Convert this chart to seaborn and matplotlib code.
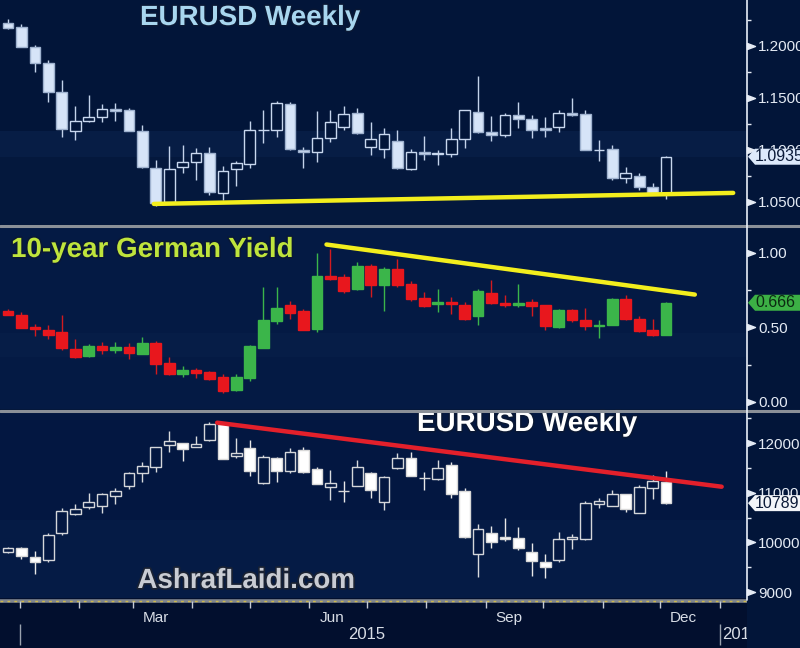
import numpy as np
import pandas as pd
import matplotlib
matplotlib.use("Agg")
import matplotlib.pyplot as plt
import matplotlib.dates as mdates
import matplotlib.patheffects as pe
import matplotlib.transforms as mtransforms
from matplotlib import font_manager
from matplotlib.lines import Line2D
from matplotlib.patches import Polygon
from matplotlib.path import Path
import seaborn as sns

# weekly candles, Dec 2014 - Dec 2015
weeks = pd.date_range("2014-12-26", periods=50, freq="W-FRI")

# EURUSD weekly
eur_open = [1.2225, 1.2186, 1.1993, 1.1833, 1.1561, 1.1183, 1.1282, 1.1314, 1.1392, 1.1385,
            1.1186, 1.0830, 1.0500, 1.0840, 1.0882, 1.0968, 1.0590, 1.0817, 1.0863, 1.1188,
            1.1192, 1.1440, 1.1000, 1.0981, 1.1112, 1.1218, 1.1353, 1.1032, 1.1007, 1.1090,
            1.0817, 1.0984, 1.0965, 1.0962, 1.1103, 1.1368, 1.1176, 1.1144, 1.1337, 1.1295,
            1.1214, 1.1218, 1.1353, 1.1346, 1.1000, 1.1010, 1.0728, 1.0750, 1.0647, 1.0584]
eur_high = [1.2257, 1.2212, 1.2010, 1.1865, 1.1673, 1.1423, 1.1529, 1.1440, 1.1449, 1.1407,
            1.1240, 1.0904, 1.1041, 1.1048, 1.1016, 1.1032, 1.0846, 1.0894, 1.1282, 1.1385,
            1.1474, 1.1458, 1.1030, 1.1375, 1.1385, 1.1426, 1.1400, 1.1272, 1.1209, 1.1192,
            1.1010, 1.1135, 1.1000, 1.1209, 1.1385, 1.1712, 1.1330, 1.1353, 1.1465, 1.1337,
            1.1314, 1.1385, 1.1497, 1.1385, 1.1096, 1.1048, 1.0833, 1.0776, 1.0686, 1.0942]
eur_low = [1.2165, 1.1990, 1.1753, 1.1465, 1.1122, 1.1096, 1.1272, 1.1272, 1.1282, 1.1180,
           1.0830, 1.0465, 1.0490, 1.0776, 1.0712, 1.0567, 1.0519, 1.0657, 1.0824, 1.1070,
           1.1128, 1.0995, 1.0824, 1.0888, 1.1080, 1.1192, 1.1150, 1.0952, 1.0920, 1.0815,
           1.0808, 1.0904, 1.0856, 1.0930, 1.1016, 1.1160, 1.1090, 1.1128, 1.1214, 1.1112,
           1.1128, 1.1170, 1.1330, 1.0995, 1.0894, 1.0712, 1.0686, 1.0615, 1.0570, 1.0526]
eur_close = [1.2173, 1.1993, 1.1840, 1.1561, 1.1199, 1.1282, 1.1314, 1.1391, 1.1378, 1.1186,
             1.0834, 1.0487, 1.0817, 1.0882, 1.0968, 1.0593, 1.0801, 1.0872, 1.1192, 1.1196,
             1.1449, 1.1007, 1.0981, 1.1112, 1.1266, 1.1343, 1.1161, 1.1106, 1.1154, 1.0824,
             1.0984, 1.0965, 1.0968, 1.1103, 1.1385, 1.1176, 1.1144, 1.1337, 1.1295, 1.1192,
             1.1192, 1.1353, 1.1337, 1.1000, 1.1004, 1.0728, 1.0776, 1.0647, 1.0584, 1.0935]

# 10-year German yield
bund_open = [0.609, 0.587, 0.502, 0.484, 0.468, 0.357, 0.312, 0.379, 0.350, 0.368,
             0.323, 0.397, 0.263, 0.185, 0.216, 0.200, 0.166, 0.082, 0.160, 0.364,
             0.542, 0.648, 0.609, 0.491, 0.844, 0.842, 0.760, 0.916, 0.782, 0.890,
             0.793, 0.699, 0.659, 0.670, 0.654, 0.576, 0.730, 0.666, 0.648, 0.670,
             0.648, 0.502, 0.619, 0.547, 0.507, 0.520, 0.693, 0.554, 0.484, 0.453]
bund_high = [0.626, 0.603, 0.525, 0.520, 0.585, 0.424, 0.386, 0.401, 0.401, 0.395,
             0.435, 0.408, 0.301, 0.240, 0.227, 0.211, 0.185, 0.185, 0.384, 0.775,
             0.775, 0.681, 0.626, 0.999, 1.028, 0.860, 0.938, 0.927, 0.905, 0.961,
             0.815, 0.737, 0.760, 0.703, 0.670, 0.760, 0.820, 0.721, 0.793, 0.693,
             0.650, 0.626, 0.626, 0.632, 0.547, 0.700, 0.721, 0.580, 0.554, 0.674]
bund_low = [0.585, 0.495, 0.440, 0.424, 0.350, 0.295, 0.305, 0.323, 0.328, 0.290,
            0.320, 0.189, 0.180, 0.166, 0.160, 0.150, 0.059, 0.072, 0.144, 0.360,
            0.525, 0.554, 0.480, 0.473, 0.820, 0.730, 0.755, 0.708, 0.614, 0.775,
            0.680, 0.635, 0.603, 0.592, 0.550, 0.518, 0.655, 0.640, 0.636, 0.574,
            0.485, 0.495, 0.536, 0.485, 0.431, 0.515, 0.548, 0.470, 0.446, 0.448]
bund_close = [0.587, 0.498, 0.489, 0.453, 0.364, 0.301, 0.379, 0.346, 0.368, 0.328,
              0.397, 0.256, 0.185, 0.216, 0.193, 0.155, 0.077, 0.166, 0.375, 0.552,
              0.630, 0.596, 0.484, 0.844, 0.827, 0.744, 0.916, 0.782, 0.894, 0.782,
              0.688, 0.643, 0.670, 0.659, 0.558, 0.744, 0.663, 0.648, 0.663, 0.641,
              0.507, 0.619, 0.547, 0.509, 0.520, 0.693, 0.554, 0.475, 0.453, 0.666]

# third panel (index level)
idx_open = [9800, 9892, 9700, 9645, 10194, 10571, 10718, 10739, 10939, 11140,
            11390, 11510, 11960, 11993, 11926, 12060, 12396, 11738, 11893, 11201,
            11691, 11443, 11859, 11470, 11121, 11040, 11134, 11403, 10806, 11490,
            11692, 11302, 11275, 11557, 11034, 9766, 10181, 10114, 10081, 9812,
            9611, 9644, 10060, 10060, 10772, 10732, 10973, 10597, 11101, 11221]
idx_high = [9905, 9900, 9832, 10194, 10698, 10772, 10987, 11000, 11088, 11422,
            11624, 11926, 12242, 12000, 12147, 12429, 12400, 12095, 12060, 11758,
            11724, 11893, 11926, 11510, 11457, 11235, 11658, 11422, 11342, 11793,
            11825, 11422, 11658, 11624, 11100, 10363, 10335, 10496, 10303, 9981,
            9760, 10215, 10162, 10832, 10899, 11054, 10980, 11154, 11356, 11436]
idx_low = [9790, 9665, 9357, 9598, 10148, 10551, 10671, 10585, 10766, 11074,
           11209, 11410, 11813, 11638, 11910, 12050, 11670, 11692, 11336, 11175,
           11221, 11390, 11400, 11165, 10853, 10806, 11125, 10887, 10651, 11480,
           11330, 11054, 11255, 10899, 10090, 9309, 9893, 10027, 9846, 9329,
           9289, 9611, 9866, 10050, 10685, 10725, 10605, 10590, 10867, 10780]
idx_close = [9892, 9731, 9598, 10148, 10631, 10671, 10819, 10967, 11040, 11390,
             11543, 11913, 12047, 11873, 11973, 12382, 11678, 11805, 11443, 11724,
             11443, 11812, 11410, 11175, 11188, 11030, 11510, 11054, 11309, 11692,
             11336, 11300, 11490, 10967, 10101, 10269, 10000, 10067, 9879, 9631,
             9498, 10060, 10101, 10798, 10839, 10973, 10671, 11108, 11235, 10789.3]

# hand-drawn trend lines (start / end)
eur_line_dates = pd.to_datetime(["2015-03-12", "2016-01-08"])
eur_line_vals = [1.0481, 1.0587]
bund_line_dates = pd.to_datetime(["2015-06-10", "2015-12-19"])
bund_line_vals = [1.057, 0.721]
idx_line_dates = pd.to_datetime(["2015-04-14", "2016-01-02"])
idx_line_vals = [12409, 11120]

eur_ticks = [1.05, 1.10, 1.15, 1.20]
eur_minor = [1.075, 1.125, 1.175, 1.225]
bund_ticks = [0.0, 0.5, 1.0]
bund_minor = [0.25, 0.75]
idx_ticks = [9000, 10000, 11000, 12000]
idx_minor = [9500, 10500, 11500, 12500]

month_labels = ["Mar", "Jun", "Sep", "Dec"]
month_label_dates = pd.to_datetime(["2015-03-13", "2015-06-13", "2015-09-13", "2015-12-13"])

sns.set_theme(style="dark")


def pick_font(names):
    for n in names:
        try:
            font_manager.findfont(font_manager.FontProperties(family=n), fallback_to_default=False)
            return n
        except Exception:
            pass
    return "DejaVu Sans"


NARROW = pick_font(["Liberation Sans Narrow", "DejaVu Sans Condensed", "Liberation Sans"])
BOLD = pick_font(["Liberation Sans", "Arial", "DejaVu Sans"])
plt.rcParams["font.family"] = [NARROW, "DejaVu Sans"]

BG = "#021539"
fig = plt.figure(figsize=(8, 6.48), dpi=100, facecolor=BG)

x = mdates.date2num(weeks)
xmin, xmax = x[0] - 4.2, x[-1] + 42.2
W = 800.0
H = 648.0
AX_W = 747 / W

ax1 = fig.add_axes([0, (H - 224) / H, AX_W, 224 / H])
ax2 = fig.add_axes([0, (H - 409) / H, AX_W, 182 / H])
ax3 = fig.add_axes([0, (H - 598) / H, AX_W, 186 / H])
axd = fig.add_axes([0, 0, AX_W, 50 / H])


def candles(ax, o, h, l, c, up_face, up_edge, dn_face, dn_edge, up_wick, dn_wick):
    o, h, l, c = map(np.asarray, (o, h, l, c))
    up = c >= o
    for m, fc, ec, wc in ((up, up_face, up_edge, up_wick), (~up, dn_face, dn_edge, dn_wick)):
        ax.vlines(x[m], l[m], h[m], color=wc, lw=1.0, zorder=2)
        ax.bar(x[m], np.abs(c - o)[m], bottom=np.minimum(o, c)[m], width=5.6,
               color=fc, edgecolor=ec, linewidth=1.0, zorder=3)


tri = Path([(0, -0.75), (2, 0), (0, 0.75), (0, -0.75)],
           [Path.MOVETO, Path.LINETO, Path.LINETO, Path.CLOSEPOLY])


def right_axis(ax, ticks, minor, fmt, ylim):
    ax.set_xlim(xmin, xmax)
    ax.set_ylim(*ylim)
    ax.yaxis.tick_right()
    ax.set_yticks(ticks)
    ax.set_yticklabels([fmt.format(t) for t in ticks])
    ax.set_yticks(minor, minor=True)
    ax.tick_params(axis="y", which="major", length=0, pad=8, labelsize=11,
                   labelcolor="#e4eaf4", right=True, left=False)
    ax.tick_params(axis="y", which="minor", length=3, width=1, color="#e4eaf4",
                   right=True, left=False, direction="out")
    ax.tick_params(axis="x", bottom=False, labelbottom=False)
    ax.plot([1.0] * len(ticks), ticks, ls="none", marker=tri, ms=11.5, color="#e4eaf4",
            transform=ax.get_yaxis_transform(), clip_on=False, zorder=4)
    for s in ax.spines.values():
        s.set_visible(False)
    ax.grid(False)
    ax.set_xlabel("")
    ax.set_ylabel("")


def price_tag(ax, value, text, face, tcolor):
    anchor = mtransforms.ScaledTranslation(1.0, value, ax.get_yaxis_transform())
    verts = [(1, 0), (8, 8), (80, 8), (80, -8), (8, -8)]
    poly = Polygon(verts, closed=True, transform=mtransforms.Affine2D() + anchor,
                   facecolor=face, edgecolor="none", clip_on=False, zorder=6)
    ax.add_artist(poly)
    ax.text(0, 0, text, transform=mtransforms.Affine2D().translate(8, 0) + anchor,
            ha="left", va="center", fontsize=11.5, color=tcolor, clip_on=False, zorder=7)


# --- panel 1: EURUSD
ax1.set_facecolor(BG)
ax1.axhspan(1.0933, 1.1183, color="#071d45", lw=0, zorder=0)
ax1.axhspan(1.00, 1.0933, color="#04183d", lw=0, zorder=0)
candles(ax1, eur_open, eur_high, eur_low, eur_close,
        BG, "#c8d7ee", "#d6e4f8", "#9fb2cf", "#c3d2ea", "#c3d2ea")
sns.lineplot(x=mdates.date2num(eur_line_dates), y=eur_line_vals, ax=ax1,
             color="#f3ee1d", lw=3.2, zorder=5, legend=False)
right_axis(ax1, eur_ticks, eur_minor, "{:.4f}", (1.0288, 1.2442))
price_tag(ax1, eur_close[-1], "1.0935", "#dde9fb", "#0b1a38")

# --- panel 2: German yield
ax2.set_facecolor("#041a44")
ax2.axhspan(0.30, 0.46, color="#061d47", lw=0, zorder=0)
candles(ax2, bund_open, bund_high, bund_low, bund_close,
        "#3bb54a", "#3bb54a", "#e8171d", "#e8171d", "#3bb54a", "#d21a1f")
sns.lineplot(x=mdates.date2num(bund_line_dates), y=bund_line_vals, ax=ax2,
             color="#f3ee1d", lw=3.2, zorder=5, legend=False)
right_axis(ax2, bund_ticks, bund_minor, "{:.2f}", (-0.047, 1.1745))
price_tag(ax2, bund_close[-1], "0.666", "#3cb045", "#0c2a12")

# --- panel 3: index
ax3.set_facecolor("#031741")
ax3.axhspan(8000, 10450, color="#051b45", lw=0, zorder=0)
candles(ax3, idx_open, idx_high, idx_low, idx_close,
        "#031741", "#d4d6da", "#ffffff", "#d8d8d8", "#d8dadd", "#e8e8e8")
sns.lineplot(x=mdates.date2num(idx_line_dates), y=idx_line_vals, ax=ax3,
             color="#e3202b", lw=3.2, zorder=5, legend=False)
right_axis(ax3, idx_ticks, idx_minor, "{:.0f}", (8880, 12624))
price_tag(ax3, idx_close[-1], "10789.3", "#f3f5f9", "#0b1a38")

# --- date strip
axd.set_facecolor("#020f2e")
axd.set_xlim(xmin, xmax)
axd.set_ylim(0, 1)
axd.set_xticks([])
axd.set_yticks([])
for s in axd.spines.values():
    s.set_visible(False)
axd.axhline(0.95, color="#80868f", lw=2.6, zorder=1)
axd.axhline(0.95, color="#cdb94c", lw=1.0, ls=(0, (2, 3)), zorder=2)
month_starts = pd.date_range("2015-01-01", "2016-01-01", freq="MS")
axd.vlines(mdates.date2num(month_starts), 0.80, 0.95, color="#c4cad4", lw=1, zorder=3)
for lab, d in zip(month_labels, month_label_dates):
    axd.text(mdates.date2num(d), 0.60, lab, ha="center", va="center",
             fontsize=11, color="#d8dde6")
axd.text(mdates.date2num(pd.Timestamp("2015-07-01")), 0.27, "2015", ha="center",
         va="center", fontsize=12, color="#d8dde6")
axd.text(mdates.date2num(pd.Timestamp("2016-01-02")), 0.27, "2016", ha="left",
         va="center", fontsize=12, color="#d8dde6", clip_on=True)
axd.vlines(mdates.date2num(pd.to_datetime(["2015-01-01", "2016-01-01"])), 0.06, 0.48,
           color="#9aa2ae", lw=1)

# separators and right axis line
for yy in (225.5, 410.5):
    fig.add_artist(Line2D([0, 1], [1 - yy / H] * 2, transform=fig.transFigure,
                          color="#8b9098", lw=2.2, zorder=10))
fig.add_artist(Line2D([AX_W, AX_W], [1 - 600 / H, 1], transform=fig.transFigure,
                      color="#e8eef8", lw=1.2, zorder=11))

# titles
outline = [pe.withStroke(linewidth=2.2, foreground="#0a1834")]
fig.text(250 / W, 1 - 18 / H, "EURUSD Weekly", ha="center", va="center", family=BOLD,
         fontweight="bold", fontsize=20, color="#a8d6ef", path_effects=outline)
fig.text(11 / W, 1 - 250 / H, "10-year German Yield", ha="left", va="center", family=BOLD,
         fontweight="bold", fontsize=20, color="#bfe43c", path_effects=outline)
fig.text(417 / W, 1 - 424 / H, "EURUSD Weekly", ha="left", va="center", family=BOLD,
         fontweight="bold", fontsize=20, color="#ffffff", path_effects=outline)
fig.text(246 / W, 1 - 581 / H, "AshrafLaidi.com", ha="center", va="center", family=BOLD,
         fontweight="bold", fontsize=20, color="#c9ccd3",
         path_effects=[pe.withStroke(linewidth=2.5, foreground="#1a2233")])

fig.savefig("out.png", dpi=100, facecolor=fig.get_facecolor())
